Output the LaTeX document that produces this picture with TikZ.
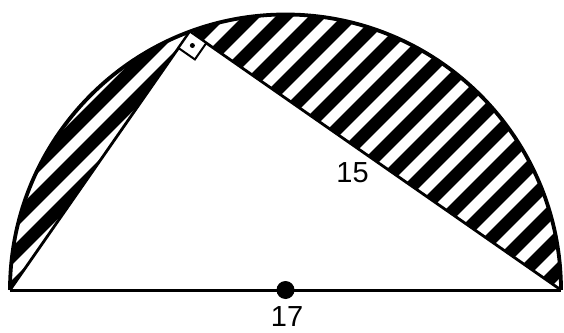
\documentclass[tikz,border=0pt]{standalone}
\usepackage{fontspec}
\setmainfont{Liberation Sans}
\usetikzlibrary{calc}
\begin{document}
\begin{tikzpicture}[x=1pt,y=1pt,
  arcline/.style={line width=3.8pt},
  sideline/.style={line width=2.8pt, line join=round},
  baseline/.style={line width=3pt},
  stripe/.style={line width=12.5pt, black},
  lbl/.style={inner sep=0pt, font=\fontsize{29}{30}\selectfont}]
\useasboundingbox (0,0) rectangle (564,332);
\coordinate (O) at (285.5,42);
\coordinate (A) at (10,42);
\coordinate (B) at (561,42);
\coordinate (C) at (189.9,300.4);
% hatched right region
\begin{scope}
  \clip (C) -- (B) arc[start angle=0, end angle=110.3, radius=275.5pt] -- cycle;
  \foreach \n in {-12,...,12} {
    \pgfmathsetmacro\cc{200+33*\n}
    \draw[stripe] (-60,-60-\cc) -- (700,700-\cc);
  }
\end{scope}
% hatched left region
\begin{scope}
  \clip (A) -- (C) arc[start angle=110.3, end angle=180, radius=275.5pt] -- cycle;
  \foreach \n in {-12,...,12} {
    \pgfmathsetmacro\cc{200+33*\n}
    \draw[stripe] (-60,-60-\cc) -- (700,700-\cc);
  }
\end{scope}
% arc
\draw[arcline] (B) arc[start angle=0, end angle=180, radius=275.5pt];
% triangle sides
\draw[sideline] (A) -- (C) -- (B);
% diameter
\draw[baseline] (A) -- (B);
% right angle mark
\coordinate (S1) at ($(C)!20pt!(A)$);
\coordinate (S2) at ($(C)!20pt!(B)$);
\coordinate (S3) at ($(S1)+(S2)-(C)$);
\draw[line width=2pt, fill=white, line join=miter] (C) -- (S1) -- (S3) -- (S2) -- cycle;
\node[circle, fill=black, inner sep=0pt, minimum size=5pt] (rd) at ($(C)!0.5!(S3)$) {};
% center dot
\node[circle, fill=black, inner sep=0pt, minimum size=18pt] (Od) at (O) {};
% labels
\node[lbl] (l15) at (352.5,159.5) {15};
\node[lbl] (l17) at (287,15.5) {17};
\end{tikzpicture}
\end{document}
